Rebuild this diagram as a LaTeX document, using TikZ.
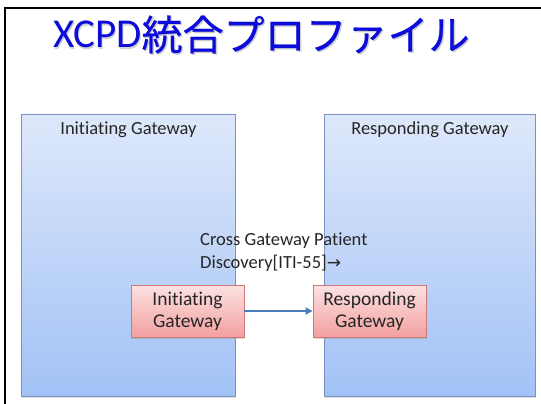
\documentclass[tikz,border=0pt]{standalone}
\usepackage{fontspec}
\setmainfont{Carlito}[Ligatures=NoCommon]
\newfontfamily\cjk{Noto Sans CJK JP}[FakeBold=0.6]
\newfontfamily\sym{DejaVu Sans}
\usetikzlibrary{arrows.meta,shadows}
\definecolor{titleblue}{RGB}{12,12,218}
\definecolor{gwtop}{RGB}{222,232,250}
\definecolor{gwbot}{RGB}{162,194,246}
\definecolor{gwline}{RGB}{120,146,196}
\definecolor{pktop}{RGB}{252,226,226}
\definecolor{pkbot}{RGB}{243,160,160}
\definecolor{pkline}{RGB}{206,120,120}
\definecolor{msgblue}{RGB}{74,124,186}
\newcommand{\titlestring}{XCPD{\cjk\fontsize{41}{44}\selectfont\raisebox{-2pt}{統合プロファイル}}}
\tikzset{
  gwbox/.style={draw=gwline, line width=0.9pt, top color=gwtop, bottom color=gwbot,
    minimum height=282pt, inner sep=0pt, anchor=north west,
    drop shadow={opacity=0.25, shadow xshift=0.8pt, shadow yshift=-1.6pt}},
  gwhead/.style={font=\fontsize{18.5}{22}\selectfont, text=black!85},
  actor/.style={draw=pkline, line width=0.8pt, top color=pktop, bottom color=pkbot,
    minimum width=113pt, minimum height=52pt, inner sep=0pt, align=center,
    font=\fontsize{19.5}{22}\selectfont, text=black!85,
    drop shadow={opacity=0.3, shadow xshift=1pt, shadow yshift=-1.8pt}},
  msg/.style={-{Triangle[length=7pt,width=7pt]}, draw=msgblue, line width=2pt},
  msglabel/.style={font=\fontsize{18.5}{23}\selectfont, align=left, inner sep=0pt, text=black!85},
  titletext/.style={font=\fontsize{41}{44}\selectfont, inner sep=0pt, anchor=base west}
}
\begin{document}
\begin{tikzpicture}[x=1pt, y=-1pt]
  \useasboundingbox (0,0) rectangle (541,404);
  \fill[white] (0,0) rectangle (541,404);
  % slide frame (left and top edges)
  \draw[line width=2pt, black] (5,404) -- (5,8.5) -- (541,8.5);

  % title with its soft shadow
  \node[titletext, text=black!40, opacity=0.45] (titleshadow) at (54.3,49.3) {\titlestring};
  \node[titletext, text=titleblue] (title) at (53,48) {\titlestring};

  % gateway lanes
  \node[gwbox, minimum width=214pt] (igw) at (21,114) {};
  \node[gwbox, minimum width=211pt] (rgw) at (324,114) {};
  \node[gwhead] (igwhead) at ([yshift=-16pt]igw.north) {Initiating Gateway};
  \node[gwhead] (rgwhead) at ([yshift=-16pt]rgw.north) {Responding Gateway};

  % actors
  \node[actor] (ig) at (187.5,311) {Initiating\\Gateway};
  \node[actor] (rg) at (369.5,311) {Responding\\Gateway};

  % transaction
  \draw[msg] (ig.east) -- (rg.west);
  \node[msglabel, anchor=north west] (msgtext) at (200,233)
    {Cross Gateway Patient\\Discovery[ITI-55]{\sym\fontsize{17}{23}\selectfont →}};
\end{tikzpicture}
\end{document}
